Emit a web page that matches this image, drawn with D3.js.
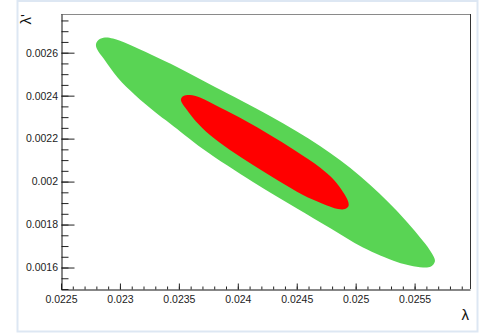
<!DOCTYPE html>
<html>
<head>
<meta charset="utf-8">
<script src="https://cdn.jsdelivr.net/npm/d3@7"></script>
<style>
  html, body { margin: 0; padding: 0; background: #fff; }
  svg text { font-family: "Liberation Sans", Arial, sans-serif; }
</style>
</head>
<body>
<div id="chart"></div>
<script>
// tick values (major) and their labels
var xMajor = [0.0225, 0.023, 0.0235, 0.024, 0.0245, 0.025, 0.0255];
var xLabels = ["0.0225", "0.023", "0.0235", "0.024", "0.0245", "0.025", "0.0255"];
var yMajor = [0.0016, 0.0018, 0.002, 0.0022, 0.0024, 0.0026];
var yLabels = ["0.0016", "0.0018", "0.002", "0.0022", "0.0024", "0.0026"];

// outer contour (green) as (lambda, lambda')
var greenContour = [
  [0.022797, 0.0026404], [0.0228224, 0.0026613], [0.0228733, 0.0026706], [0.0229412, 0.002666],
  [0.0230684, 0.0026404], [0.023272, 0.0025892], [0.0234926, 0.002531], [0.0238065, 0.0024402],
  [0.0242732, 0.0023052], [0.0246974, 0.0021656], [0.0250367, 0.002026], [0.0253506, 0.0018631],
  [0.0255712, 0.0017234], [0.0256391, 0.0016722], [0.025673, 0.0016303], [0.0256391, 0.0016047],
  [0.0255712, 0.0016001], [0.0254609, 0.0016094], [0.0253506, 0.0016257], [0.0250622, 0.0016932],
  [0.0247822, 0.0017839], [0.0245022, 0.0018747], [0.0241289, 0.001998], [0.0237047, 0.0021516],
  [0.0234248, 0.0022703], [0.0232975, 0.0023238], [0.0231278, 0.002403], [0.0229836, 0.0024821],
  [0.0228648, 0.0025705], [0.0228054, 0.0026171]
];

// inner contour (red)
var redContour = [
  [0.0235181, 0.0023844], [0.0235393, 0.0023983], [0.0235944, 0.002403], [0.0236793, 0.0023913],
  [0.023849, 0.0023448], [0.0240611, 0.0022843], [0.0242732, 0.0022168], [0.0244853, 0.0021447],
  [0.0246974, 0.0020655], [0.0248161, 0.0020073], [0.0248925, 0.0019515], [0.0249349, 0.0019096],
  [0.0249392, 0.0018863], [0.0249095, 0.0018724], [0.0248501, 0.0018724], [0.0247143, 0.001898],
  [0.0245531, 0.0019375], [0.024341, 0.002005], [0.0241289, 0.0020772], [0.0239338, 0.002147],
  [0.0237641, 0.0022168], [0.0236453, 0.0022796], [0.023569, 0.0023332], [0.0235266, 0.0023657]
];

var W = 481, H = 333;
var frame = { left: 61, right: 470, top: 14, bottom: 289 };

var x = d3.scaleLinear().domain([0.0225, 0.02597]).range([frame.left, frame.right]);
var y = d3.scaleLinear().domain([0.0015, 0.00278]).range([frame.bottom, frame.top]);

var svg = d3.select("#chart")
    .append("svg")
    .attr("width", W)
    .attr("height", H)

// light blue page border
svg.append("rect")
    .attr("x", 17.5)
    .attr("y", 1)
    .attr("width", 460)
    .attr("height", 330.5)
    .attr("fill", "none")
    .attr("stroke", "#dde7f3")
    .attr("stroke-width", 2)

// contours
var line = d3.line()
    .x(function(d) { return x(d[0]); })
    .y(function(d) { return y(d[1]); })
    .curve(d3.curveCatmullRomClosed.alpha(0.5))

svg.append("path")
    .attr("class", "contour green")
    .attr("d", line(greenContour))
    .attr("fill", "rgb(89,212,84)")

svg.append("path")
    .attr("class", "contour red")
    .attr("d", line(redContour))
    .attr("fill", "#ff0000")

// frame top and right edges
svg.append("line")
    .attr("x1", frame.left).attr("x2", frame.right)
    .attr("y1", frame.top + 0.5).attr("y2", frame.top + 0.5)
    .attr("stroke", "#8a8a8a")
svg.append("line")
    .attr("x1", frame.right + 0.5).attr("x2", frame.right + 0.5)
    .attr("y1", frame.top).attr("y2", frame.bottom)
    .attr("stroke", "#333")

function minorValues(lo, hi, step) {
    var out = [];
    var n = Math.round((hi - lo) / step);
    for (var i = 0; i <= n; i++) out.push(+(lo + i * step).toFixed(6));
    return out;
}

// x axis
var xMinor = minorValues(0.0225, 0.0259, 0.0001);
svg.append("g")
    .attr("class", "axis xminor")
    .attr("transform", "translate(0," + (frame.bottom + 0.5) + ")")
    .call(d3.axisBottom(x).tickValues(xMinor).tickFormat("").tickSizeInner(-3).tickSizeOuter(0))
    .call(function(g) { g.select(".domain").remove(); })

var xAxis = svg.append("g")
    .attr("class", "axis x")
    .attr("transform", "translate(0," + (frame.bottom + 0.5) + ")")
    .call(d3.axisBottom(x)
        .tickValues(xMajor)
        .tickFormat(function(d, i) { return xLabels[i]; })
        .tickSizeInner(-6)
        .tickSizeOuter(0)
        .tickPadding(6.5))
xAxis.selectAll("text").attr("font-size", "10.5px").attr("fill", "#222")
    .style("font-family", "'Liberation Sans', Arial, sans-serif")

// y axis
var yMinor = minorValues(0.0015, 0.00275, 0.00005);
svg.append("g")
    .attr("class", "axis yminor")
    .attr("transform", "translate(" + (frame.left + 0.5) + ",0)")
    .call(d3.axisLeft(y).tickValues(yMinor).tickFormat("").tickSizeInner(-7).tickSizeOuter(0))
    .call(function(g) { g.select(".domain").remove(); })

var yAxis = svg.append("g")
    .attr("class", "axis y")
    .attr("transform", "translate(" + (frame.left + 0.5) + ",0)")
    .call(d3.axisLeft(y)
        .tickValues(yMajor)
        .tickFormat(function(d, i) { return yLabels[i]; })
        .tickSizeInner(-13)
        .tickSizeOuter(0)
        .tickPadding(3.5))
yAxis.selectAll("text").attr("font-size", "10.5px").attr("fill", "#222")
    .style("font-family", "'Liberation Sans', Arial, sans-serif")

svg.selectAll(".axis line").attr("stroke", "#222")
svg.selectAll(".axis .domain").attr("stroke", "#111")

// axis titles
svg.append("text")
    .attr("x", 469)
    .attr("y", 320)
    .attr("text-anchor", "end")
    .attr("font-size", "15px")
    .attr("fill", "#111")
    .text("\u03bb")

svg.append("text")
    .attr("transform", "translate(31,14) rotate(-90)")
    .attr("text-anchor", "end")
    .attr("font-size", "15px")
    .attr("fill", "#111")
    .text("\u03bb'")
</script>
</body>
</html>
